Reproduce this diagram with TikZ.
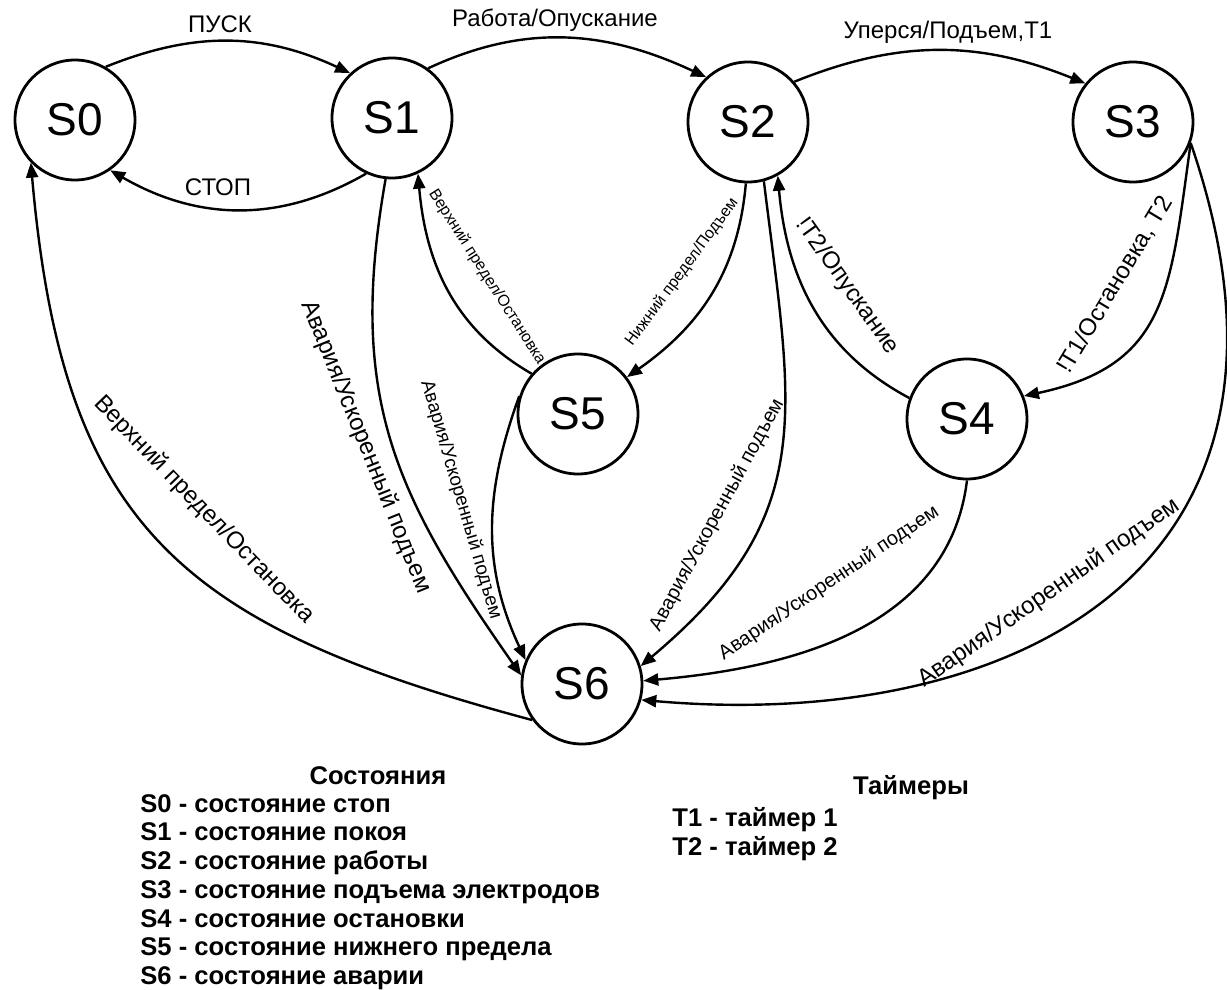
\documentclass[tikz,border=0pt]{standalone}
\usepackage{fontspec}
\setmainfont{Liberation Sans}
\usetikzlibrary{arrows.meta,positioning}
\tikzset{%
  stateNode/.style={%
    circle,
    draw,
    line width=1.4pt,
    minimum size=60pt,
    inner sep=0pt,
    font=\fontsize{23}{23}\selectfont
  },
  transArrow/.style={%
    -{Triangle[length=7.5pt,width=6pt]},
    line width=1.2pt
  },
  bigLabel/.style={font=\fontsize{12}{12}\selectfont, inner sep=0pt},
  midLabel/.style={font=\fontsize{10}{10}\selectfont, inner sep=0pt},
  smallLabel/.style={font=\fontsize{8}{8}\selectfont, inner sep=0pt},
  legendTitle/.style={font=\bfseries\fontsize{12.8}{14.35}\selectfont, inner sep=0pt},
  legendText/.style={%
    font=\bfseries\fontsize{12.8}{14.35}\selectfont,
    align=left,
    inner sep=0pt,
    anchor=north west
  }
}

\begin{document}
\begin{tikzpicture}[x=0.5pt, y=0.5pt]
  \useasboundingbox (0,0) rectangle (1227,-990);

  % states
  \node[stateNode] (S0) at (75,-120) {S0};
  \node[stateNode] (S1) at (392,-118) {S1};
  \node[stateNode] (S2) at (748,-122) {S2};
  \node[stateNode] (S3) at (1133,-122) {S3};
  \node[stateNode] (S5) at (578,-414) {S5};
  \node[stateNode] (S4) at (967,-419) {S4};
  \node[stateNode] (S6) at (582,-684) {S6};

  % transitions
  \draw[transArrow] (S0.60) to[out=22, in=155] (S1.133);
  \draw[transArrow] (S1.-115) to[out=-150, in=-30] (S0.-55);
  \draw[transArrow] (S1.54) to[out=25, in=155] (S2.133);
  \draw[transArrow] (S2.41) to[out=22, in=158] (S3.141);
  \draw[transArrow] (S2.-92) to[out=-95, in=35] (S5.37);
  \draw[transArrow] (S5.139) to[out=150, in=-85] (S1.-65);
  \draw[transArrow] (S3.-20) to[out=-98, in=12, looseness=1.25] (S4.22);
  \draw[transArrow] (S4.160) to[out=152, in=-85] (S2.-61);
  \draw[transArrow] (S1.-96) to[out=-100, in=125, looseness=1.1] (S6.172);
  \draw[transArrow] (S5.163) to[out=-110, in=115] (S6.157);
  \draw[transArrow] (S2.-75) to[out=-83, in=40, looseness=1.2] (S6.17);
  \draw[transArrow] (S4.-90) to[out=-97, in=5] (S6.3);
  \draw[transArrow] (S3.-20) to[out=-71, in=-5, out looseness=1.5, in looseness=1.18] (S6.-15);
  \draw[transArrow] (S6.216) to[out=165, in=-85, looseness=1.25] (S0.-136);

  % transition labels
  \node[bigLabel] (lblStart) at (220,-24) {ПУСК};
  \node[bigLabel] (lblHalt) at (218,-187) {СТОП};
  \node[bigLabel] (lblWork) at (555,-20) {Работа/Опускание};
  \node[bigLabel] (lblStuck) at (948,-32) {Уперся/Подъем,T1};
  \node[smallLabel, rotate=53.6] (lblLowLim) at (682,-272) {Нижний предел/Подъем};
  \node[smallLabel, rotate=-57.5] (lblUpLimA) at (487,-277) {Верхний предел/Остановка};
  \node[bigLabel, rotate=59] (lblTimerA) at (1115,-285) {!T1/Остановка, T2};
  \node[bigLabel, rotate=-54.5] (lblTimerB) at (847,-286) {!T2/Опускание};
  \node[bigLabel, rotate=-68] (lblAlarmA) at (366,-447) {Авария/Ускоренный подъем};
  \node[font=\fontsize{9.5}{9.5}\selectfont, inner sep=0pt, rotate=-73.6] (lblAlarmB) at (461,-500) {Авария/Ускоренный подъем};
  \node[midLabel, rotate=61.5] (lblAlarmC) at (717,-515) {Авария/Ускоренный подъем};
  \node[midLabel, rotate=34] (lblAlarmD) at (829,-583) {Авария/Ускоренный подъем};
  \node[bigLabel, rotate=35] (lblAlarmE) at (1049,-593) {Авария/Ускоренный подъем};
  \node[bigLabel, rotate=-46] (lblUpLimB) at (204,-510) {Верхний предел/Остановка};

  % legend
  \node[legendTitle] (statesTitle) at (378,-776) {Состояния};
  \node[legendText] (statesList) at (140,-794) {S0 - состояние стоп\\
    S1 - состояние покоя\\
    S2 - состояние работы\\
    S3 - состояние подъема электродов\\
    S4 - состояние остановки\\
    S5 - состояние нижнего предела\\
    S6 - состояние аварии};
  \node[legendTitle] (timersTitle) at (911,-788) {Таймеры};
  \node[legendText] (timersList) at (672,-807) {T1 - таймер 1\\
    T2 - таймер 2};
\end{tikzpicture}
\end{document}
